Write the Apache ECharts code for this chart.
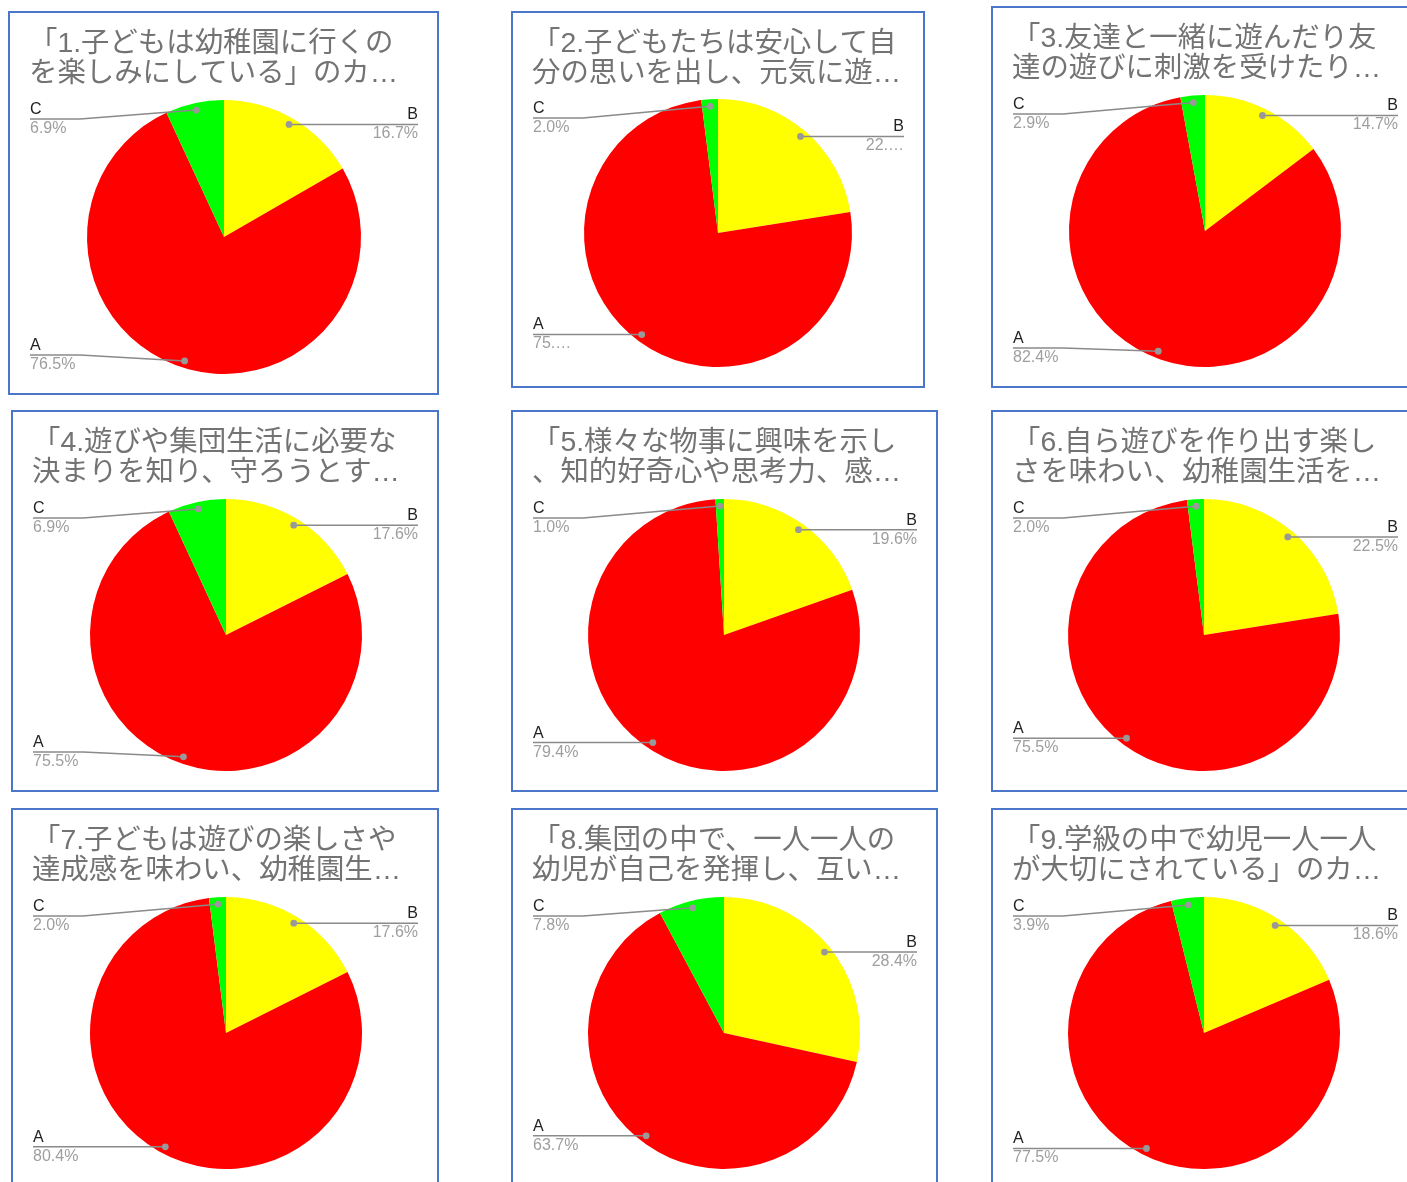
<!DOCTYPE html>
<html>
<head>
<meta charset="utf-8">
<script src="https://cdn.jsdelivr.net/npm/echarts@6/dist/echarts.min.js"></script>
<style>
html,body{margin:0;padding:0;background:#fff;}
#main{width:1407px;height:1182px;}
</style>
</head>
<body>
<div id="main"></div>
<script>
// ---- data ----
const categories = ['B', 'A', 'C'];
const titles = [
  '「1.子どもは幼稚園に行くの\nを楽しみにしている」のカ…',
  '「2.子どもたちは安心して自\n分の思いを出し、元気に遊…',
  '「3.友達と一緒に遊んだり友\n達の遊びに刺激を受けたり…',
  '「4.遊びや集団生活に必要な\n決まりを知り、守ろうとす…',
  '「5.様々な物事に興味を示し\n、知的好奇心や思考力、感…',
  '「6.自ら遊びを作り出す楽し\nさを味わい、幼稚園生活を…',
  '「7.子どもは遊びの楽しさや\n達成感を味わい、幼稚園生…',
  '「8.集団の中で、一人一人の\n幼児が自己を発揮し、互い…',
  '「9.学級の中で幼児一人一人\nが大切にされている」のカ…'
];
const valuesA = [76.5, 75.5, 82.4, 75.5, 79.4, 75.5, 80.4, 63.7, 77.5];
const valuesB = [16.7, 22.5, 14.7, 17.6, 19.6, 22.5, 17.6, 28.4, 18.6];
const valuesC = [6.9, 2.0, 2.9, 6.9, 1.0, 2.0, 2.0, 7.8, 3.9];
// labels shown truncated in the original (panel index -> category -> text)
const truncatedLabels = { 1: { A: '75.…', B: '22.…' } };

// ---- layout (styling only) ----
const colors = { A: '#ff0000', B: '#ffff00', C: '#00ff00' };
const boxes = [
  [9, 12, 429, 382], [512, 12, 412, 375], [992, 7, 426, 380],
  [12, 411, 426, 380], [512, 411, 425, 380], [992, 411, 426, 380],
  [12, 809, 426, 385], [512, 809, 425, 385], [992, 809, 426, 385]
];
const pieGeom = [
  [224, 237, 137], [718, 233, 134], [1205, 231, 136],
  [226, 635, 136], [724, 635, 136], [1204, 635, 136],
  [226, 1033, 136], [724, 1033, 136], [1204, 1033, 136]
];
const DOT_INSET = 7, CLAMP = 19, BEND = 50;
const LINE_COLOR = '#8a8a8a';

const guides = {};
const chart = echarts.init(document.getElementById('main'));

function makeSeries(i) {
  const [bx, by, bw, bh] = boxes[i];
  const [cx, cy, r] = pieGeom[i];
  const vals = { A: valuesA[i], B: valuesB[i], C: valuesC[i] };
  return {
    type: 'pie',
    left: 0, top: 0, width: '100%', height: '100%',
    center: [cx, cy],
    radius: [0, r],
    startAngle: 90,
    clockwise: true,
    avoidLabelOverlap: false,
    animation: false,
    silent: true,
    itemStyle: { borderWidth: 0 },
    data: categories.map(c => ({ name: c, value: vals[c], itemStyle: { color: colors[c] } })),
    label: {
      show: true,
      position: 'outside',
      formatter: function (p) {
        const t = (truncatedLabels[i] && truncatedLabels[i][p.name]) || (p.value.toFixed(1) + '%');
        return '{n|' + p.name + '}\n{p|' + t + '}';
      },
      rich: {
        n: { fontSize: 16, color: '#222222', lineHeight: 19, fontFamily: '"Liberation Sans", Arial, sans-serif' },
        p: { fontSize: 16, color: '#9e9e9e', lineHeight: 19, fontFamily: '"Liberation Sans", Arial, sans-serif' }
      }
    },
    labelLine: {
      show: true, length: 12, length2: 10,
      lineStyle: { color: 'rgba(0,0,0,0)', width: 0 }
    },
    labelLayout: function (p) {
      const e = p.labelLinePoints[0];
      const dx = e[0] - cx, dy = e[1] - cy;
      const len = Math.hypot(dx, dy) || 1;
      const dot = [cx + dx / len * (r - DOT_INSET), cy + dy / len * (r - DOT_INSET)];
      const lineY = Math.min(Math.max(dot[1], cy - r + CLAMP), cy + r - CLAMP);
      const left = dot[0] < cx;
      const lx = left ? bx + 21 : bx + bw - 20;
      const bend = left ? lx + BEND : lx - BEND;
      const pts = [dot, [bend, lineY], [lx, lineY]];
      guides[i + '-' + p.dataIndex] = pts;
      return {
        x: lx,
        y: lineY,
        align: left ? 'left' : 'right',
        verticalAlign: 'middle',
        labelLinePoints: pts
      };
    }
  };
}

function boxGraphics() {
  return boxes.map((b, i) => ({
    type: 'rect', id: 'box' + i, z: 1,
    shape: { x: b[0], y: b[1], width: b[2], height: b[3] },
    style: { fill: 'none', stroke: '#4a77c9', lineWidth: 2 }
  }));
}

const option = {
  animation: false,
  backgroundColor: '#ffffff',
  title: titles.map((t, i) => ({
    text: t,
    left: boxes[i][0] + 20,
    top: boxes[i][1] + 17,
    padding: 0,
    textStyle: {
      fontSize: 28.4, lineHeight: 30, fontWeight: 'normal', color: '#737373',
      fontFamily: '"Liberation Sans", "Noto Sans CJK JP", sans-serif'
    }
  })),
  graphic: boxGraphics(),
  series: titles.map((t, i) => makeSeries(i))
};
chart.setOption(option);

const guideGraphics = [];
Object.keys(guides).forEach(k => {
  const pts = guides[k];
  guideGraphics.push({
    type: 'polyline', id: 'line' + k, z: 100,
    shape: { points: pts },
    style: { stroke: LINE_COLOR, lineWidth: 1.5, fill: null }
  });
  guideGraphics.push({
    type: 'circle', id: 'dot' + k, z: 101,
    shape: { cx: pts[0][0], cy: pts[0][1], r: 3.4 },
    style: { fill: '#999999' }
  });
});
chart.setOption({ graphic: boxGraphics().concat(guideGraphics) });
</script>
</body>
</html>
